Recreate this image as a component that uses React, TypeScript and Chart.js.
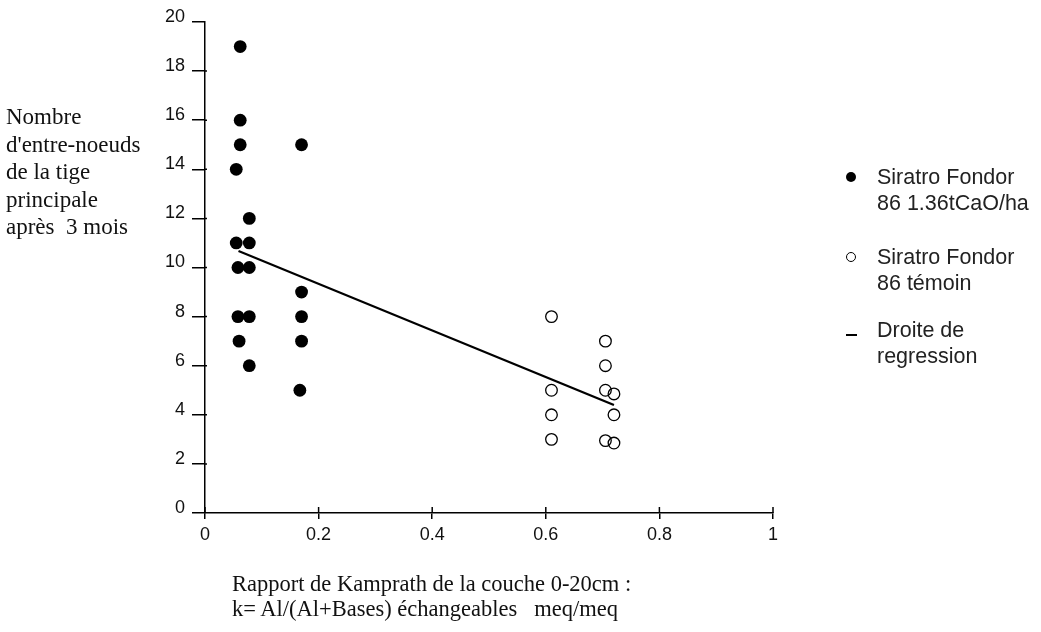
import React, { useEffect, useRef } from "react";
import { Chart, registerables } from "chart.js";

Chart.register(...registerables);

// Filled: Siratro Fondor 86 1.36tCaO/ha
const limedX = [0.062, 0.062, 0.062, 0.055, 0.17, 0.078, 0.055, 0.078, 0.058, 0.078, 0.058, 0.078, 0.06, 0.078, 0.17, 0.17, 0.17, 0.167];
const limedY = [19, 16, 15, 14, 15, 12, 11, 11, 10, 10, 8, 8, 7, 6, 9, 8, 7, 5];

// Open: Siratro Fondor 86 témoin
const controlX = [0.61, 0.61, 0.61, 0.61, 0.705, 0.705, 0.705, 0.72, 0.72, 0.705, 0.72];
const controlY = [8, 5, 4, 3, 7, 6, 5, 4.85, 4, 2.95, 2.85];

// Regression line end points
const regX = [0.059, 0.72];
const regY = [10.67, 4.4];

const xTicks = [0, 0.2, 0.4, 0.6, 0.8, 1];
const yTicks = [0, 2, 4, 6, 8, 10, 12, 14, 16, 18, 20];

const yTitleLines = ["Nombre", "d'entre-noeuds", "de la tige", "principale", "après  3 mois"];
const xTitleLines = ["Rapport de Kamprath de la couche 0-20cm :", "k= Al/(Al+Bases) échangeables   meq/meq"];

const legendLimed = ["Siratro Fondor", "86 1.36tCaO/ha"];
const legendControl = ["Siratro Fondor", "86 témoin"];
const legendReg = ["Droite de", "regression"];

const tickUpPlugin = {
  id: "tickUp",
  afterDraw(chart: any) {
    const ctx = chart.ctx;
    const xs = chart.scales.x;
    const ys = chart.scales.y;
    ctx.save();
    ctx.strokeStyle = "#000";
    ctx.lineWidth = 1.5;
    const y0 = ys.getPixelForValue(0);
    xTicks.forEach((v) => {
      const px = xs.getPixelForValue(v);
      ctx.beginPath();
      ctx.moveTo(px, y0 - 6);
      ctx.lineTo(px, y0);
      ctx.stroke();
    });
    const x0 = xs.getPixelForValue(0);
    yTicks.forEach((v) => {
      if (v === 20 || v === 0) return;
      const py = ys.getPixelForValue(v);
      ctx.beginPath();
      ctx.moveTo(x0, py);
      ctx.lineTo(x0 + 2, py);
      ctx.stroke();
    });
    ctx.restore();
  },
};

export default function App() {
  const ref = useRef<HTMLCanvasElement>(null);
  useEffect(() => {
    document.body.style.margin = "0";
    const tickFont = { family: "'Liberation Sans', Arial, sans-serif", size: 18 };
    const chart = new Chart(ref.current as HTMLCanvasElement, {
      type: "scatter",
      data: {
        datasets: [
          {
            label: "reg",
            type: "line",
            data: regX.map((x, i) => ({ x, y: regY[i] })),
            borderColor: "#000",
            borderWidth: 2.2,
            pointRadius: 0,
            fill: false,
          } as any,
          {
            label: "limed",
            data: limedX.map((x, i) => ({ x, y: limedY[i] })),
            pointRadius: 6.4,
            pointBackgroundColor: "#000",
            pointBorderColor: "#000",
            pointBorderWidth: 0,
          },
          {
            label: "control",
            data: controlX.map((x, i) => ({ x, y: controlY[i] })),
            pointRadius: 5.8,
            pointBackgroundColor: "rgba(255,255,255,0)",
            pointBorderColor: "#000",
            pointBorderWidth: 1.3,
          },
        ],
      },
      options: {
        animation: false,
        responsive: false,
        maintainAspectRatio: false,
        layout: { padding: { top: 22, right: 268, left: 0, bottom: 0 } },
        plugins: { legend: { display: false }, tooltip: { enabled: false } },
        scales: {
          x: {
            type: "linear",
            min: 0,
            max: 1,
            afterBuildTicks: (s: any) => {
              s.ticks = xTicks.map((v) => ({ value: v }));
            },
            afterFit: (s: any) => {
              s.height = 119;
            },
            ticks: {
              color: "#111",
              font: tickFont,
              padding: 5,
              callback: (v: any) => String(v),
            },
            grid: { drawOnChartArea: false, tickLength: 6, color: "#000", lineWidth: 1.5 },
            border: { color: "#000", width: 1.5 },
          },
          y: {
            type: "linear",
            min: 0,
            max: 20,
            afterBuildTicks: (s: any) => {
              s.ticks = yTicks.map((v) => ({ value: v }));
            },
            afterFit: (s: any) => {
              s.width = 205;
            },
            ticks: {
              color: "#111",
              font: tickFont,
              padding: 7,
              labelOffset: -5,
              callback: (v: any) => String(v),
            },
            grid: { drawOnChartArea: false, tickLength: 13, color: "#000", lineWidth: 1.5 },
            border: { color: "#000", width: 1.5 },
          },
        },
      },
      plugins: [tickUpPlugin],
    });
    return () => chart.destroy();
  }, []);

  const serif = "'Liberation Serif', 'Times New Roman', serif";
  const sans = "'Liberation Sans', Arial, sans-serif";
  const legendText: React.CSSProperties = {
    position: "absolute",
    left: 877,
    fontFamily: sans,
    fontSize: 21.5,
    lineHeight: "26px",
    color: "#222",
    whiteSpace: "nowrap",
  };

  return (
    <div style={{ position: "relative", width: 1041, height: 632, background: "#fff", overflow: "hidden" }}>
      <canvas ref={ref} width={1041} height={632} style={{ position: "absolute", left: 0, top: 0 }} />
      <div
        style={{
          position: "absolute",
          left: 6,
          top: 103,
          fontFamily: serif,
          fontSize: 23,
          lineHeight: "27.5px",
          color: "#111",
          whiteSpace: "pre",
        }}
      >
        {yTitleLines.join("\n")}
      </div>
      <div
        style={{
          position: "absolute",
          left: 232,
          top: 571,
          fontFamily: serif,
          fontSize: 22.5,
          lineHeight: "25px",
          color: "#111",
          whiteSpace: "pre",
        }}
      >
        {xTitleLines.join("\n")}
      </div>
      <div style={{ position: "absolute", left: 846, top: 172, width: 10, height: 10, borderRadius: "50%", background: "#000" }} />
      <div style={{ ...legendText, top: 164 }}>{legendLimed.map((t, i) => <div key={i}>{t}</div>)}</div>
      <div style={{ position: "absolute", left: 846, top: 252, width: 8, height: 8, borderRadius: "50%", border: "1.2px solid #000" }} />
      <div style={{ ...legendText, top: 244 }}>{legendControl.map((t, i) => <div key={i}>{t}</div>)}</div>
      <div style={{ position: "absolute", left: 846, top: 334, width: 11, height: 2, background: "#000" }} />
      <div style={{ ...legendText, top: 317 }}>{legendReg.map((t, i) => <div key={i}>{t}</div>)}</div>
    </div>
  );
}
